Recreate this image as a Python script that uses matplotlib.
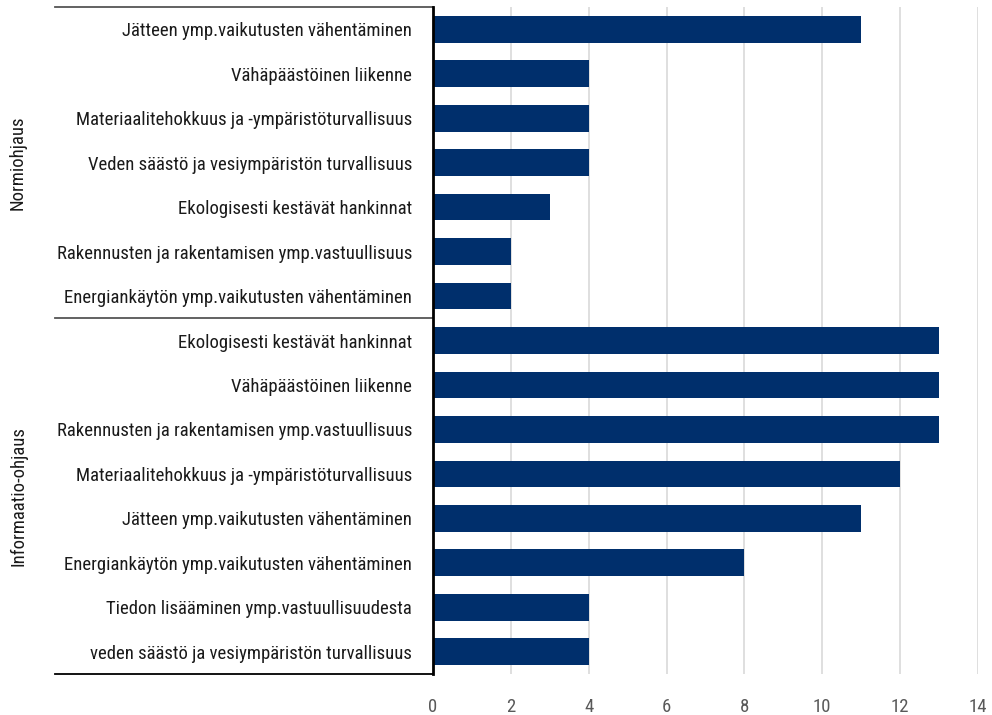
import os
import matplotlib.pyplot as plt
from matplotlib import font_manager

# data, top to bottom
norm_labels = [
    "Jätteen ymp.vaikutusten vähentäminen",
    "Vähäpäästöinen liikenne",
    "Materiaalitehokkuus ja -ympäristöturvallisuus",
    "Veden säästö ja vesiympäristön turvallisuus",
    "Ekologisesti kestävät hankinnat",
    "Rakennusten ja rakentamisen ymp.vastuullisuus",
    "Energiankäytön ymp.vaikutusten vähentäminen",
]
norm_values = [11, 4, 4, 4, 3, 2, 2]

info_labels = [
    "Ekologisesti kestävät hankinnat",
    "Vähäpäästöinen liikenne",
    "Rakennusten ja rakentamisen ymp.vastuullisuus",
    "Materiaalitehokkuus ja -ympäristöturvallisuus",
    "Jätteen ymp.vaikutusten vähentäminen",
    "Energiankäytön ymp.vaikutusten vähentäminen",
    "Tiedon lisääminen ymp.vastuullisuudesta",
    "veden säästö ja vesiympäristön turvallisuus",
]
info_values = [13, 13, 13, 12, 11, 8, 4, 4]

group_names = ["Normiohjaus", "Informaatio-ohjaus"]
x_ticks = [0, 2, 4, 6, 8, 10, 12, 14]

BAR_COLOR = "#002f6c"


def pick_narrow_font():
    # look for a condensed / narrow regular face
    found = []
    for f in font_manager.fontManager.ttflist:
        base = os.path.basename(f.fname).lower()
        if ("narrow" in base or "condensed" in base) and "bold" not in base \
                and "italic" not in base and "oblique" not in base and "light" not in base:
            found.append(f.fname)
    for key in ["liberationsansnarrow", "robotocondensed", "opensanscondensed", "dejavusanscondensed"]:
        for fn in found:
            if key in os.path.basename(fn).lower().replace("-", "").replace("_", ""):
                return fn
    return found[0] if found else None


fname = pick_narrow_font()
if fname:
    fp = font_manager.FontProperties(fname=fname)
    size = 13.5
else:
    fp = font_manager.FontProperties(family="Liberation Sans")
    size = 12

labels = norm_labels + info_labels
values = norm_values + info_values
pos = list(range(len(labels)))

fig = plt.figure(figsize=(9.92, 7.15), dpi=100)
W, H = 992, 715
x0, x14, ytop, ybot = 433, 978, 7, 674
ax = fig.add_axes([x0 / W, 1 - ybot / H, (x14 - x0) / W, (ybot - ytop) / H])

ax.barh(pos, values, height=0.6, color=BAR_COLOR, zorder=3)
ax.set_ylim(len(labels) - 0.5, -0.5)
ax.set_xlim(0, 14)
ax.set_xticks(x_ticks)
ax.set_xticklabels([str(t) for t in x_ticks], color="#595959")
ax.set_yticks(pos)
ax.set_yticklabels(labels, color="#1a1a1a")
for t in ax.get_xticklabels() + ax.get_yticklabels():
    t.set_fontproperties(fp)
    t.set_fontsize(size)
ax.tick_params(axis="both", length=0)
ax.tick_params(axis="x", pad=17)
ax.tick_params(axis="y", pad=15)
ax.grid(axis="x", color="#d9d9d9", linewidth=1.2, zorder=0)

for side in ["top", "right", "bottom"]:
    ax.spines[side].set_visible(False)
ax.spines["left"].set_color("black")
ax.spines["left"].set_linewidth(2)
ax.spines["left"].set_zorder(4)

# group bracket lines on the left
left_x = (55 - x0) / (x14 - x0)
n_norm = len(norm_labels)
for yv, col in [(-0.5, "#555555"), (n_norm - 0.5, "#555555"), (len(labels) - 0.5, "black")]:
    ax.plot([left_x, 0], [yv, yv], transform=ax.get_yaxis_transform(),
            color=col, linewidth=1.3, clip_on=False)

# group titles
gx = (18 - x0) / (x14 - x0)
centers = [(n_norm - 1) / 2, n_norm + (len(info_labels) - 1) / 2]
for name, cy in zip(group_names, centers):
    ax.text(gx, cy, name, transform=ax.get_yaxis_transform(), rotation=90,
            ha="center", va="center", fontproperties=fp, fontsize=size, color="#1a1a1a")

fig.savefig("out.png", dpi=100)
